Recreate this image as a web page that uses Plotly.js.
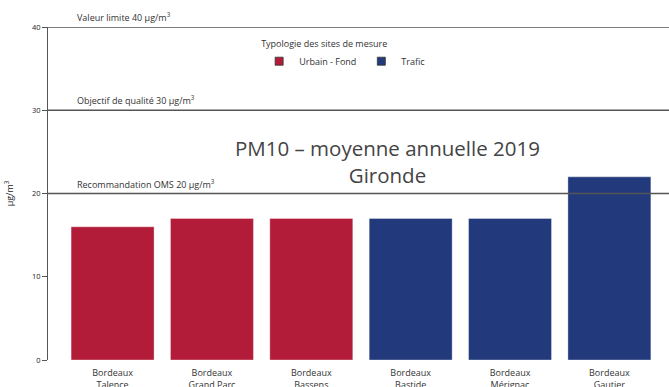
<!DOCTYPE html>
<html><head><meta charset="utf-8">
<script src="https://cdn.plot.ly/plotly-3.0.1.min.js"></script>
<style>html,body{margin:0;padding:0;background:#fff}#chart{width:669px;height:387px}</style>
</head><body><div id="chart"></div>
<script>
const stations = ["Bordeaux<br>Talence","Bordeaux<br>Grand Parc","Bordeaux<br>Bassens","Bordeaux<br>Bastide","Bordeaux<br>Mérignac","Bordeaux<br>Gautier"];
const urbainStations = ["Bordeaux<br>Talence","Bordeaux<br>Grand Parc","Bordeaux<br>Bassens"];
const urbainValues = [16, 17, 17];
const traficStations = ["Bordeaux<br>Bastide","Bordeaux<br>Mérignac","Bordeaux<br>Gautier"];
const traficValues = [17, 17, 22];
const thresholds = [40, 30, 20];
const thresholdLabels = ["Valeur limite 40 µg/m<sup>3</sup>","Objectif de qualité 30 µg/m<sup>3</sup>","Recommandation OMS 20 µg/m<sup>3</sup>"];
const yTicks = [0, 10, 20, 30, 40];
const colUrbain = "#B21C39", colTrafic = "#22397B";

const font = "Open Sans, Noto Sans, sans-serif";
const traces = [
  {type:"bar", name:"Urbain - Fond", x:urbainStations, y:urbainValues, width:0.835, showlegend:false,
   marker:{color:colUrbain, line:{color:"rgba(255,255,255,0.35)", width:1}}},
  {type:"bar", name:"Trafic", x:traficStations, y:traficValues, width:0.835, showlegend:false,
   marker:{color:colTrafic, line:{color:"rgba(255,255,255,0.35)", width:1}}},
  {type:"scatter", mode:"markers", name:"Urbain - Fond", x:[null], y:[null], showlegend:true,
   marker:{symbol:"square", size:8, color:colUrbain, line:{color:"#333", width:0.8}}},
  {type:"scatter", mode:"markers", name:"Trafic", x:[null], y:[null], showlegend:true,
   marker:{symbol:"square", size:8, color:colTrafic, line:{color:"#333", width:0.8}}}
];
const shapes = thresholds.map(v => ({type:"line", xref:"paper", x0:0, x1:1, yref:"y", y0:v, y1:v,
  line:{color:"#555", width:1.6}, layer:"above"}));
const annotations = thresholds.map((v,i) => ({xref:"paper", x:0.044, yref:"y", y:v, xanchor:"left", yanchor:"bottom",
  yshift:1, text:thresholdLabels[i], showarrow:false, font:{family:font, size:9, color:"#333"}}));
annotations.push({xref:"paper", x:0.547, yref:"y", y:23.8, xanchor:"center", yanchor:"middle",
  text:"PM10 – moyenne annuelle 2019<br>Gironde", showarrow:false, font:{family:font, size:20.5, color:"#444"}});

const layout = {
  width:669, height:387,
  margin:{l:48, r:0, t:27, b:27},
  paper_bgcolor:"#fff", plot_bgcolor:"#fff",
  font:{family:font, size:9, color:"#333"},
  barmode:"overlay",
  showlegend:true,
  legend:{orientation:"h", x:0.34, xanchor:"left", y:0.976, yanchor:"top", itemsizing:"trace",
    title:{text:"Typologie des sites de mesure", side:"top", font:{family:font, size:9, color:"#333"}},
    font:{family:font, size:9, color:"#333"}, itemwidth:30, tracegroupgap:0, bgcolor:"rgba(0,0,0,0)"},
  xaxis:{type:"category", categoryorder:"array", categoryarray:stations, range:[-0.65,5.6],
    showline:false, showgrid:false, zeroline:false, ticks:"", ticklabelstandoff:6,
    tickfont:{family:font, size:9, color:"#333"}},
  yaxis:{range:[0,40], tickvals:yTicks, showgrid:false, zeroline:false, showline:true, linecolor:"#555", linewidth:1,
    ticks:"outside", ticklen:5, tickcolor:"#555", tickfont:{family:font, size:7.5, color:"#222"},
    title:{text:"µg/m<sup>3</sup>", font:{family:font, size:9, color:"#222"}, standoff:16}},
  shapes:shapes, annotations:annotations
};
Plotly.newPlot("chart", traces, layout, {displayModeBar:false, staticPlot:true});
</script></body></html>
